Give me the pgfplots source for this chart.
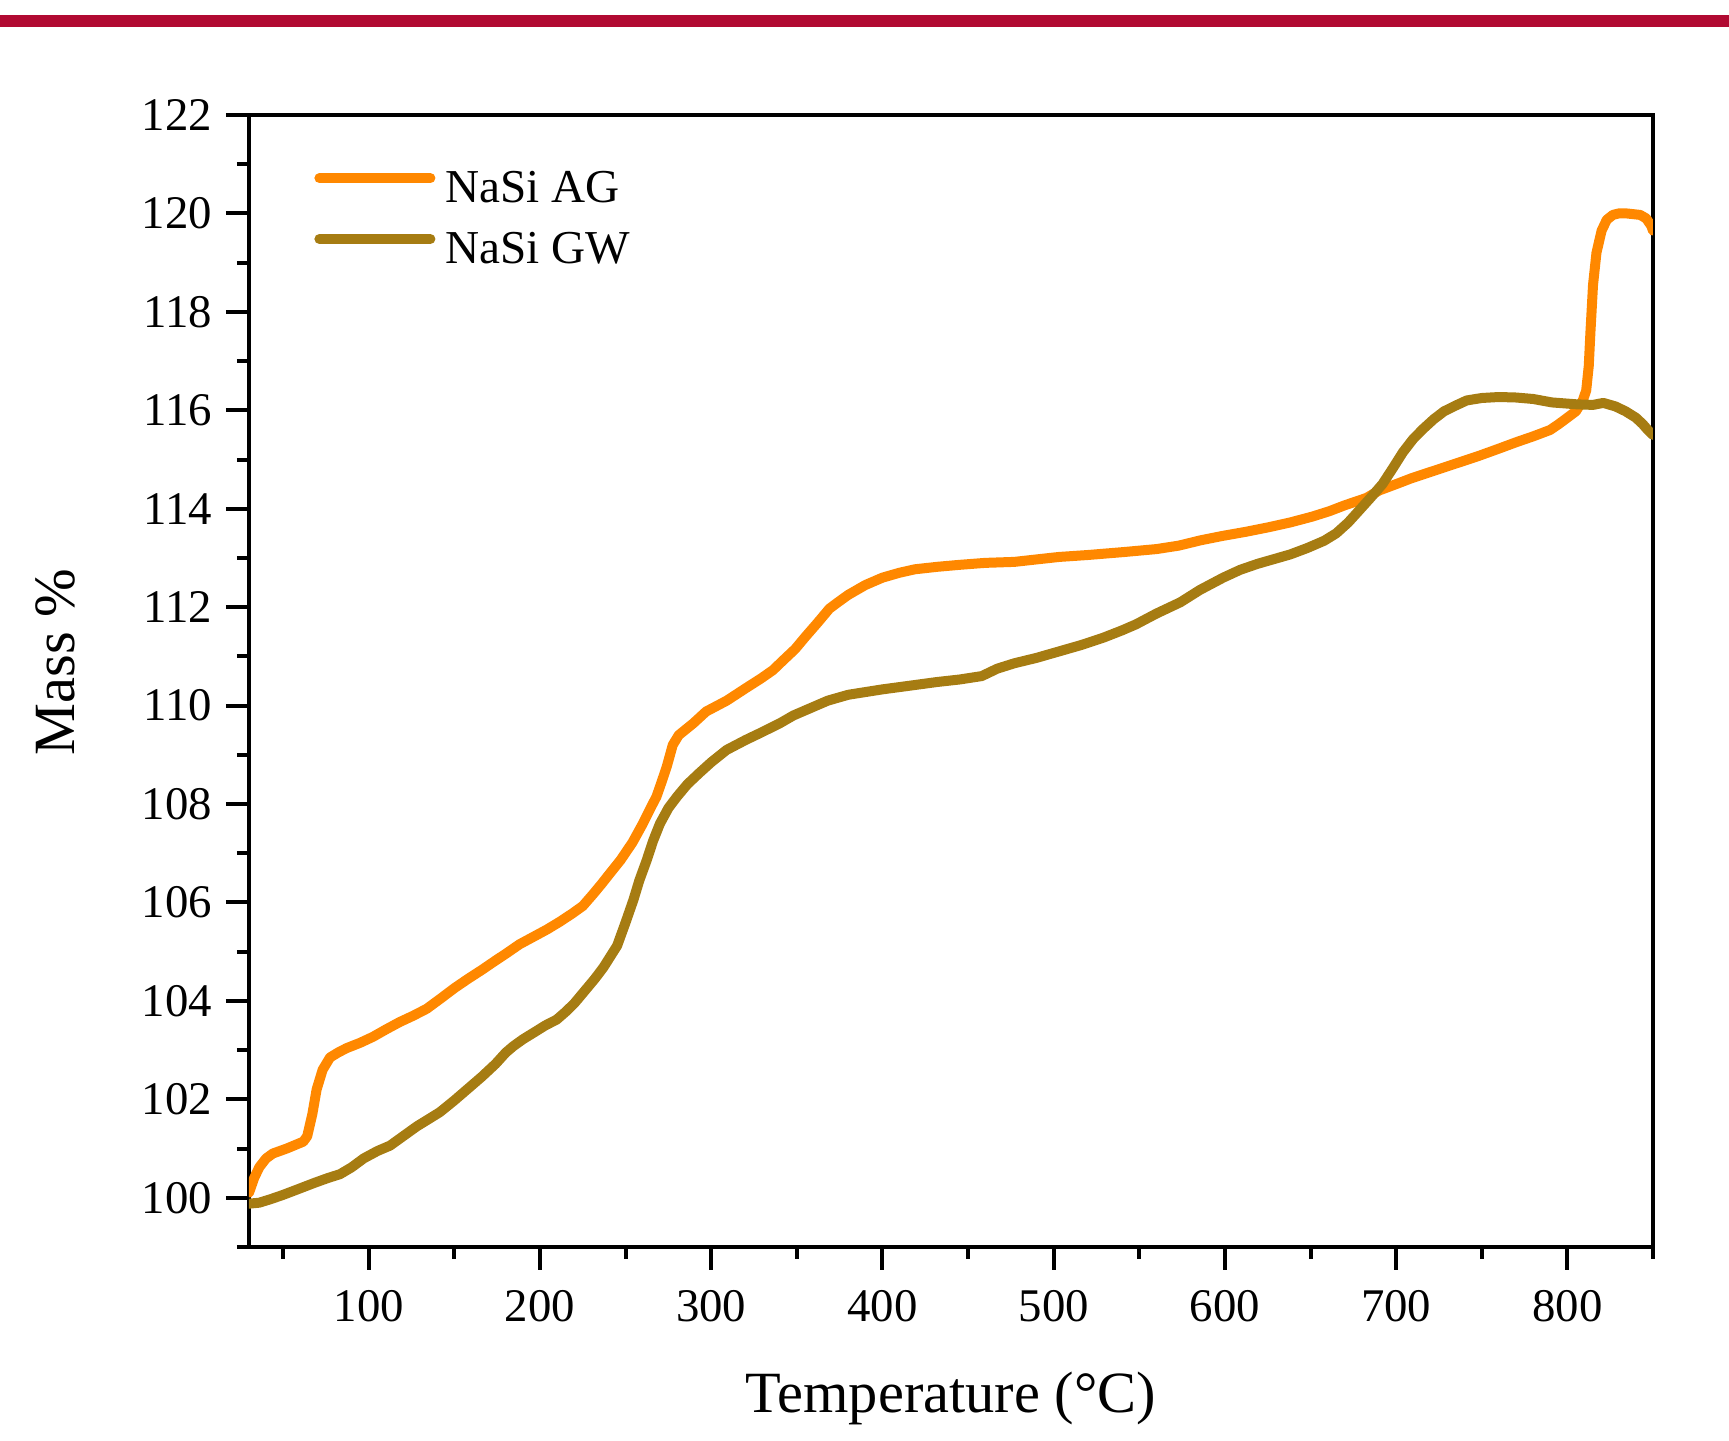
\documentclass[border=0pt]{standalone}
\usepackage{fontspec}
\setmainfont{Liberation Serif}
\usepackage{pgfplots}
\pgfplotsset{compat=1.18}
\definecolor{barred}{RGB}{177,10,50}
\definecolor{agorange}{RGB}{255,136,0}
\definecolor{gwolive}{RGB}{166,124,18}
\begin{document}
\begin{tikzpicture}
\path[use as bounding box] (0,0) rectangle (432.25pt,-360.25pt);
\fill[barred] (0,-3.75pt) rectangle (432.25pt,-6.75pt);
\begin{axis}[
  at={(62.25pt,-311.75pt)}, anchor=south west,
  scale only axis, width=351pt, height=283pt,
  xmin=30, xmax=850, ymin=99, ymax=122,
  xtick={100,200,...,800}, minor xtick={50,150,...,850},
  ytick={100,102,...,122}, minor ytick={99,101,...,121},
  xtick pos=bottom, ytick pos=left, tick align=outside,
  major tick length=5.75pt, minor tick length=3pt,
  axis line style={line width=1pt},
  every tick/.style={line width=1pt, black},
  /pgf/number format/assume math mode=true,
  tick label style={font=\fontsize{11.7}{13}\selectfont},
  xticklabel style={yshift=-1.5pt},
  xlabel={Temperature (°C)}, ylabel={Mass \%},
  label style={font=\fontsize{14.6}{17}\selectfont},
  xlabel style={at={(axis description cs:0.5,-0.1466)}, anchor=base},
  ylabel style={at={(axis description cs:-0.138,0.517)}, anchor=center},
  legend style={at={(axis description cs:0.046,0.953)}, anchor=north west,
    draw=none, fill=none, inner sep=0pt, row sep=4.2pt,
    font=\fontsize{11.8}{13}\selectfont,
    nodes={inner sep=0pt, text height=8.5pt, text depth=2.5pt},
    column sep=2.5pt},
  legend cell align=left,
  legend image code/.code={\draw[#1, line cap=round] (0pt,3.2pt) -- (27.75pt,3.2pt);},
  every axis plot/.append style={line width=2.5pt, line join=round, line cap=round},
]
\addplot[agorange] coordinates {
(30,100.1) (33,100.4) (36,100.62) (40,100.8) (44,100.9) (52,101.0) (61.7,101.14)
(64,101.25) (67,101.7) (69.5,102.2) (73,102.6) (77.3,102.85) (82,102.95) (87,103.04)
(95,103.15) (102.4,103.27) (110,103.42) (118,103.57) (126,103.7) (133.8,103.84)
(142,104.05) (150,104.26) (158,104.45) (166,104.63) (174,104.82) (180.5,104.97)
(188,105.15) (196,105.3) (204,105.45) (211.6,105.61) (219,105.78) (225,105.93)
(231,106.17) (236,106.38) (241,106.6) (247,106.86) (254,107.22) (260,107.6)
(265,107.95) (268,108.15) (271,108.45) (274,108.76) (277.5,109.2) (281,109.4)
(289.5,109.64) (297,109.88) (309,110.1) (320,110.35) (329,110.55) (336,110.72)
(342,110.92) (349,111.15) (355,111.4) (362,111.68) (369,111.97) (374,112.1)
(380,112.25) (390,112.45) (400,112.6) (410,112.7) (419,112.77) (432,112.82)
(445,112.86) (460,112.9) (477,112.92) (490,112.97) (503,113.02) (520,113.06)
(541,113.12) (560,113.18) (573,113.25) (586,113.36) (599,113.45) (612,113.53)
(625,113.62) (638,113.72) (651,113.84) (661,113.95) (670,114.07) (682.7,114.22)
(690,114.37) (700,114.5) (709,114.62) (722,114.77) (735,114.92) (748,115.07)
(760.7,115.23) (770,115.35) (780,115.47) (789.9,115.6) (795,115.72) (800,115.85)
(805,115.98) (809,116.2) (811,116.4) (812.5,116.9) (813.5,117.6) (815,118.55)
(817,119.2) (820,119.65) (823,119.87) (826.6,119.97) (830,120.0) (834.6,120.0)
(842.5,119.97) (846,119.9) (849,119.75) (850,119.65)
};
\addlegendentry{NaSi AG}
\addplot[gwolive] coordinates {
(30,99.88) (36,99.9) (42.5,99.97) (50,100.06) (59.8,100.19) (68,100.3) (76,100.4)
(83.2,100.48) (90,100.62) (97,100.8) (105,100.95) (112.4,101.06) (120,101.25)
(128,101.45) (135,101.6) (141.5,101.74) (150,101.98) (158,102.22) (166,102.46)
(174,102.72) (180,102.95) (184.4,103.08) (190,103.22) (197,103.37) (203,103.5)
(209.7,103.62) (215,103.78) (220,103.95) (226,104.2) (232,104.45) (237,104.68)
(241,104.9) (245,105.12) (250,105.6) (254.5,106.05) (258,106.45) (262.3,106.86)
(266,107.25) (270,107.6) (275,107.92) (280,108.15) (286,108.4) (293,108.63)
(300,108.85) (309,109.1) (320,109.3) (329,109.45) (340,109.64) (348,109.8)
(358,109.95) (368,110.1) (380,110.22) (400,110.33) (415,110.4) (432,110.48)
(445,110.53) (458,110.6) (467,110.75) (477,110.86) (490,110.97) (503,111.1)
(516,111.23) (529,111.38) (540,111.53) (548,111.65) (560,111.87) (574,112.1)
(585.4,112.35) (599,112.6) (609,112.76) (619,112.88) (629,112.98) (638,113.07)
(648,113.2) (658,113.35) (665,113.5) (672,113.72) (678,113.95) (685,114.22)
(692,114.5) (698,114.82) (704,115.15) (710,115.42) (716,115.63)
(722,115.82) (728,115.98) (735,116.1) (741.2,116.2) (750,116.25) (760,116.27)
(770,116.26) (780,116.23) (791,116.16) (806,116.12) (815,116.11) (821,116.15)
(828,116.08) (834,115.98) (840,115.85) (844,115.72) (847,115.6) (850,115.5)
};
\addlegendentry{NaSi GW}
\end{axis}
\end{tikzpicture}
\end{document}
